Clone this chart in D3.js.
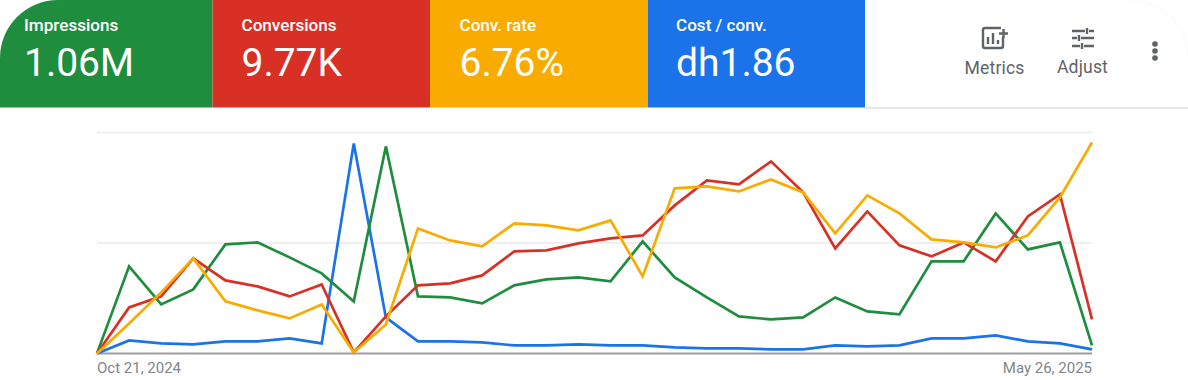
<!DOCTYPE html>
<html><head><meta charset="utf-8">
<script src="https://cdn.jsdelivr.net/npm/d3@7/dist/d3.min.js"></script>
<style>html,body{margin:0;padding:0;background:#fff}svg{display:block}</style>
</head><body><svg id="c" width="1188" height="380"></svg>
<script>
const weeks = 32;
const tickLabels = ["Oct 21, 2024", "May 26, 2025"];
const tileNames = ["Impressions", "Conversions", "Conv. rate", "Cost / conv."];
const tileValues = ["1.06M", "9.77K", "6.76%", "dh1.86"];
const tileColors = ["#1e8e3e", "#d93025", "#f9ab00", "#1a73e8"];
const tileEdges = [0, 212.5, 430, 648, 865];
const impressions = [0,87,49,64,109,111,96,80,52,207,57,56,50,68,74,76,72,112,76,56,37,34,36,56,42,39,92,92,140,104,111,8];
const conversions = [0,46,57,95,73,67,57,69,1,37,68,70,78,102,103,110,115,118,148,173,169,192,161,105,142,108,97,111,92,137,159,34];
const convRate = [0,30,61,95,52,43,35,49,1,29,125,113,107,130,128,123,133,77,165,167,162,174,161,120,158,140,114,111,106,118,156,211];
const costConv = [0,13,10,9,12,12,15,10,210,36,12,12,11,8,8,9,8,8,6,5,5,4,4,8,7,8,15,15,18,12,10,4];
const seriesOrder = [
  {values: costConv, color: "#1a73e8"},
  {values: impressions, color: "#1e8e3e"},
  {values: conversions, color: "#d93025"},
  {values: convRate, color: "#f9ab00"}
];
const font = "Roboto, sans-serif";
const svg = d3.select("#c");
const x = d3.scaleLinear().domain([0, weeks - 1]).range([97, 1092]);
const y = d3.scaleLinear().domain([0, 221]).range([353.4, 132.4]);
const gridVals = [110.5, 221];

// header
svg.append("rect").attr("x",865).attr("y",107).attr("width",323).attr("height",2).attr("fill","#e6e6e6");
svg.append("path").attr("d","M1130,0A58,58 0 0 1 1188,58").attr("fill","none").attr("stroke","#fafafa").attr("stroke-width",1);
const R = 58;
const textOffsets = [24, 29, 29.5, 28];
tileNames.forEach((n,i)=>{
  const x0=tileEdges[i], x1=tileEdges[i+1];
  const g=svg.append("g");
  if(i===0){
    g.append("path").attr("d",`M0,107.5V${R}A${R},${R} 0 0 1 ${R},0H${x1}V107.5Z`).attr("fill",tileColors[i]);
  } else {
    g.append("rect").attr("x",x0).attr("y",0).attr("width",x1-x0).attr("height",107.5).attr("fill",tileColors[i]);
  }
  g.append("text").attr("x",x0+textOffsets[i]).attr("y",31).attr("fill","#fff")
    .attr("font-family",font).attr("font-size",17.1).attr("font-weight",500).text(n);
  g.append("text").attr("x",x0+textOffsets[i]).attr("y",76).attr("fill","#fff")
    .attr("font-family",font).attr("font-size",39).text(tileValues[i]);
});

// toolbar
const ink="#5f6368";
const tb=svg.append("g");
tb.append("path").attr("d","M1001,28H985a2,2 0 0 0 -2,2V46a2,2 0 0 0 2,2H1001a2,2 0 0 0 2,-2V37")
  .attr("fill","none").attr("stroke",ink).attr("stroke-width",2.4);
tb.append("path").attr("d","M988,44V37M993,44V33M998,44V40M1003.5,29V38M999,33.5H1008").attr("fill","none").attr("stroke",ink).attr("stroke-width",2.4);
tb.append("path").attr("d","M1072,31H1085M1089,31H1094M1072,38H1077M1081,38H1094M1072,46H1080M1084,46H1094M1087,28V34M1079,35V41M1082,43V49")
  .attr("fill","none").attr("stroke",ink).attr("stroke-width",2.4);
[44,51,58].forEach(cy=>tb.append("circle").attr("cx",1155).attr("cy",cy).attr("r",2.8).attr("fill",ink));
tb.append("text").attr("x",994.5).attr("y",74).attr("text-anchor","middle").attr("font-family",font).attr("font-size",17.6).attr("letter-spacing",0.15).attr("fill",ink).text("Metrics");
tb.append("text").attr("x",1082.5).attr("y",73).attr("text-anchor","middle").attr("font-family",font).attr("font-size",17.6).attr("letter-spacing",0.15).attr("fill",ink).text("Adjust");

// grid
const gAxis=svg.append("g");
gridVals.forEach(v=>gAxis.append("line").attr("x1",97).attr("x2",1092).attr("y1",y(v)).attr("y2",y(v)).attr("stroke","#efefef").attr("stroke-width",2));
gAxis.append("line").attr("x1",97).attr("x2",1092).attr("y1",y(0)).attr("y2",y(0)).attr("stroke","#9e9e9e").attr("stroke-width",2);

const line=d3.line().x((d,i)=>x(i)).y(d=>y(d));
seriesOrder.forEach(s=>svg.append("path").attr("d",line(s.values)).attr("fill","none").attr("stroke",s.color).attr("stroke-width",2.7).attr("stroke-linejoin","miter"));

svg.append("text").attr("x",97).attr("y",373).attr("font-family",font).attr("font-size",15).attr("fill","#80868b").text(tickLabels[0]);
svg.append("text").attr("x",1092).attr("y",373).attr("text-anchor","end").attr("font-family",font).attr("font-size",15).attr("fill","#80868b").text(tickLabels[1]);
</script></body></html>
